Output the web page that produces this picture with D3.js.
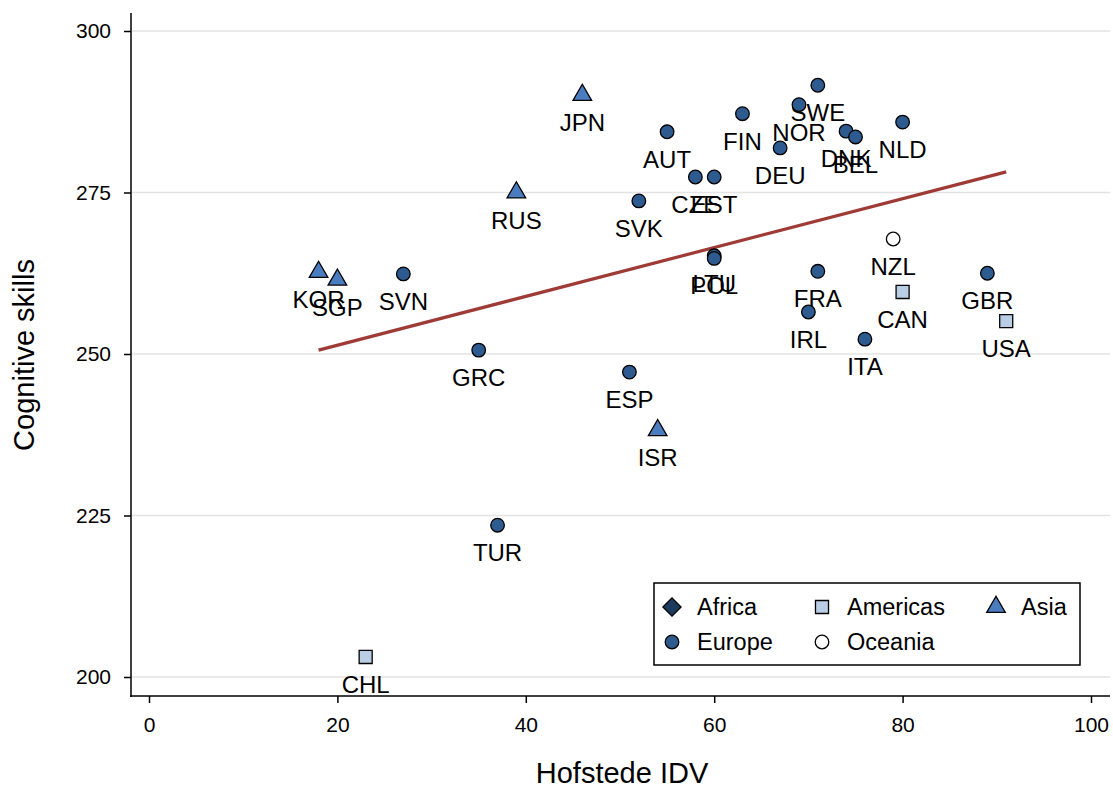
<!DOCTYPE html>
<html><head><meta charset="utf-8">
<script src="https://cdn.jsdelivr.net/npm/d3@7"></script>
<style>body{margin:0;background:#fff}svg{display:block}text{font-family:"Liberation Sans",Arial,sans-serif}</style>
</head><body>
<svg id="c" width="1113" height="785"></svg>
<script>
const countries = ["JPN","AUT","FIN","SWE","NOR","DNK","BEL","NLD","DEU","CZE","EST","SVK","RUS","LTU","POL","NZL","FRA","GBR","CAN","IRL","USA","ITA","KOR","SGP","SVN","GRC","ESP","ISR","TUR","CHL"];
const idv = [46,55,63,71,69,74,75,80,67,58,60,52,39,60,60,79,71,89,80,70,91,76,18,20,27,35,51,54,37,23];
const skills = [290.1,284.4,287.2,291.6,288.6,284.5,283.6,285.9,281.9,277.4,277.4,273.7,275.0,265.2,264.8,267.8,262.8,262.5,259.6,256.5,255.1,252.3,262.7,261.5,262.4,250.6,247.2,238.2,223.5,203.1];
const region = ["Asia","Europe","Europe","Europe","Europe","Europe","Europe","Europe","Europe","Europe","Europe","Europe","Asia","Europe","Europe","Oceania","Europe","Europe","Americas","Europe","Americas","Europe","Asia","Asia","Europe","Europe","Europe","Asia","Europe","Americas"];
const fitX = [18, 91];
const fitY = [250.6, 278.2];
const xTicks = [0,20,40,60,80,100];
const yTicks = [200,225,250,275,300];
const legendItems = ["Africa","Americas","Asia","Europe","Oceania"];

const styles = {
  Africa:{shape:d3.symbolSquare, fill:"#1c3a5e", size:165, rot:45},
  Americas:{shape:d3.symbolSquare, fill:"#b9cde5", size:170, rot:0},
  Asia:{shape:d3.symbolTriangle, fill:"#4a7dbf", size:150, rot:0},
  Europe:{shape:d3.symbolCircle, fill:"#2e5b8f", size:145, rot:0},
  Oceania:{shape:d3.symbolCircle, fill:"#ffffff", size:145, rot:0}
};

const svg = d3.select("#c");
const x = d3.scaleLinear().domain([0,100]).range([149,1091]);
const y = d3.scaleLinear().domain([200,300]).range([677,31]);

// gridlines
svg.append("g").selectAll("line").data(yTicks).join("line")
  .attr("x1",132).attr("x2",1110).attr("y1",d=>y(d)).attr("y2",d=>y(d))
  .attr("stroke","#e3e3e3").attr("stroke-width",1.5);

// axes
const yAxis = svg.append("g").attr("transform","translate(131,0)")
  .call(d3.axisLeft(y).tickValues(yTicks).tickSize(7).tickPadding(13));
yAxis.select(".domain").remove();
svg.append("line").attr("x1",131).attr("x2",131).attr("y1",13).attr("y2",697).attr("stroke","#000").attr("stroke-width",1.5);
const xAxis = svg.append("g").attr("transform","translate(0,696)")
  .call(d3.axisBottom(x).tickValues(xTicks).tickSize(7).tickPadding(14));
xAxis.select(".domain").remove();
svg.append("line").attr("x1",130).attr("x2",1110).attr("y1",696).attr("y2",696).attr("stroke","#000").attr("stroke-width",1.5);
svg.selectAll(".tick line").attr("stroke","#000").attr("stroke-width",1.5);
svg.selectAll(".tick text").attr("font-size",21).attr("fill","#000").attr("font-family","Liberation Sans, Arial, sans-serif");

// axis titles
svg.append("text").attr("x",622).attr("y",783).attr("text-anchor","middle").attr("font-size",29).text("Hofstede IDV");
svg.append("text").attr("transform","translate(34,355) rotate(-90)").attr("text-anchor","middle").attr("font-size",29).text("Cognitive skills");

// fit line
svg.append("line").attr("x1",x(fitX[0])).attr("y1",y(fitY[0])).attr("x2",x(fitX[1])).attr("y2",y(fitY[1]))
  .attr("stroke","#9f3b36").attr("stroke-width",3.2);

// points
const data = countries.map((c,i)=>({c, x:idv[i], y:skills[i], r:region[i]}));
const g = svg.append("g");
data.forEach(d=>{
  const s = styles[d.r];
  g.append("path").attr("d", d3.symbol().type(s.shape).size(s.size)())
    .attr("transform",`translate(${x(d.x)},${y(d.y)}) rotate(${s.rot})`)
    .attr("fill",s.fill).attr("stroke","#000").attr("stroke-width",1.3);
  g.append("text").attr("x",x(d.x)).attr("y",y(d.y)+36).attr("text-anchor","middle")
    .attr("font-size",24).text(d.c);
});

// legend
const lg = svg.append("g");
lg.append("rect").attr("x",654).attr("y",583).attr("width",426).attr("height",82).attr("fill","#fff").attr("stroke","#000").attr("stroke-width",1.5);
const pos = [[672,607],[822,607],[996,607],[672,642],[822,642]];
legendItems.forEach((k,i)=>{
  const s = styles[k];
  lg.append("path").attr("d", d3.symbol().type(s.shape).size(s.size)())
    .attr("transform",`translate(${pos[i][0]},${pos[i][1]}) rotate(${s.rot})`)
    .attr("fill",s.fill).attr("stroke","#000").attr("stroke-width",1.3);
  lg.append("text").attr("x",pos[i][0]+25).attr("y",pos[i][1]+8).attr("font-size",23.5).text(k);
});
</script>
</body></html>
